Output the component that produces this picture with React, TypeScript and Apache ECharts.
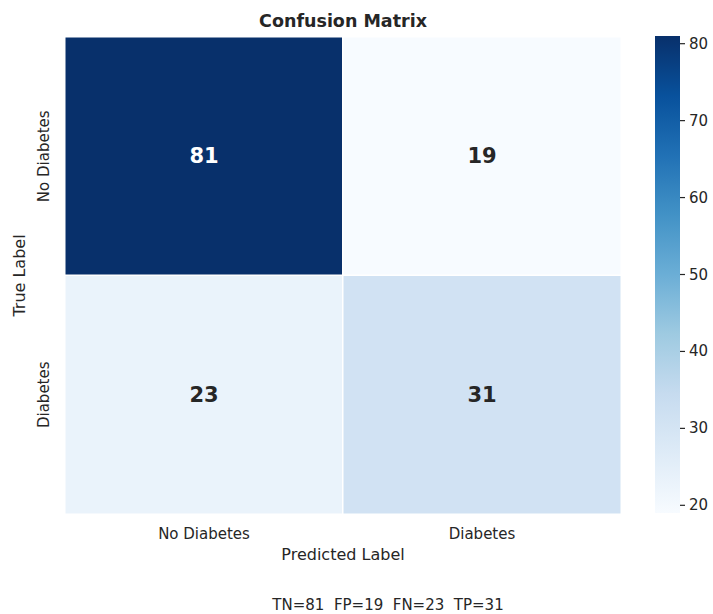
import React, { useEffect, useRef } from "react";
import * as echarts from "echarts";

const predictedLabels = ["No Diabetes", "Diabetes"];
const trueLabels = ["No Diabetes", "Diabetes"];
// [predictedIndex, trueIndex, count]
const cells: [number, number, number][] = [
  [0, 0, 81],
  [1, 0, 19],
  [0, 1, 23],
  [1, 1, 31],
];
const colorbarTicks = [20, 30, 40, 50, 60, 70, 80];
const summaryText = "TN=81  FP=19  FN=23  TP=31";
const blues = [
  "#f7fbff", "#deebf7", "#c6dbef", "#9ecae1", "#6baed6",
  "#4292c6", "#2171b5", "#08519c", "#08306b",
];

const FONT = "DejaVu Sans";
const TXT = "#262626";

export default function App() {
  const ref = useRef<HTMLDivElement>(null);
  useEffect(() => {
    document.body.style.margin = "0";
    const chart = echarts.init(ref.current!, undefined, { renderer: "svg" });
    const vals = cells.map((c) => c[2]);
    const vmin = Math.min(...vals);
    const vmax = Math.max(...vals);
    const stops = blues.map((c, i) => ({ offset: i / (blues.length - 1), color: c }));
    chart.setOption({
      animation: false,
      textStyle: { fontFamily: FONT },
      grid: [
        { left: 65, top: 37, width: 556, height: 477 },
        { left: 655, top: 36, width: 25, height: 477 },
      ],
      xAxis: [
        {
          type: "category",
          data: predictedLabels,
          gridIndex: 0,
          axisLine: { show: false },
          axisTick: { show: false },
          splitLine: { show: false },
          axisLabel: { color: TXT, fontSize: 15, margin: 12, fontFamily: FONT },
          name: "Predicted Label",
          nameLocation: "middle",
          nameGap: 32,
          nameTextStyle: { color: TXT, fontSize: 16, fontFamily: FONT },
        },
        { type: "value", gridIndex: 1, show: false, min: 0, max: 1 },
      ],
      yAxis: [
        {
          type: "category",
          data: trueLabels,
          inverse: true,
          gridIndex: 0,
          axisLine: { show: false },
          axisTick: { show: false },
          splitLine: { show: false },
          axisLabel: { color: TXT, fontSize: 15, rotate: 90, margin: 14, fontFamily: FONT },
          name: "True Label",
          nameLocation: "middle",
          nameGap: 38,
          nameRotate: 90,
          nameTextStyle: { color: TXT, fontSize: 16, fontFamily: FONT },
        },
        {
          type: "value",
          gridIndex: 1,
          position: "right",
          min: vmin,
          max: vmax,
          axisLine: { show: false },
          splitLine: { show: false },
          axisTick: { show: false },
          axisLabel: { color: TXT, fontSize: 15, margin: 9, fontFamily: FONT, customValues: colorbarTicks },
        },
      ],
      visualMap: {
        show: false,
        seriesIndex: 0,
        dimension: 2,
        min: vmin,
        max: vmax,
        inRange: { color: blues },
      },
      graphic: [
        {
          type: "text",
          x: 343,
          y: 21,
          style: {
            text: "Confusion Matrix",
            fontFamily: FONT,
            fontSize: 17.5,
            fontWeight: "bold",
            fill: TXT,
            textAlign: "center",
            textVerticalAlign: "middle",
          },
        },
        {
          type: "text",
          x: 388,
          y: 605,
          style: {
            text: summaryText,
            fontFamily: FONT,
            fontSize: 15,
            fill: TXT,
            textAlign: "center",
            textVerticalAlign: "middle",
          },
        },
      ],
      series: [
        {
          type: "heatmap",
          xAxisIndex: 0,
          yAxisIndex: 0,
          data: cells.map((c) => ({
            value: c,
            label: { color: c[2] > (vmin + vmax) / 2 ? "#ffffff" : TXT },
          })),
          itemStyle: { borderColor: "#ffffff", borderWidth: 1.5 },
          label: {
            show: true,
            fontSize: 21,
            fontWeight: "bold",
            fontFamily: FONT,
            formatter: (p: any) => String(p.value[2]),
          },
        },
        {
          type: "custom",
          xAxisIndex: 1,
          yAxisIndex: 1,
          data: [[0, vmin]],
          silent: true,
          renderItem: (params: any) => {
            const cs = params.coordSys;
            return {
              type: "rect",
              shape: { x: cs.x, y: cs.y, width: cs.width, height: cs.height },
              style: { fill: new echarts.graphic.LinearGradient(0, 1, 0, 0, stops) },
            };
          },
        },
        {
          type: "custom",
          xAxisIndex: 1,
          yAxisIndex: 1,
          data: colorbarTicks.map((t) => [1, t]),
          silent: true,
          renderItem: (params: any, api: any) => {
            const p = api.coord([api.value(0), api.value(1)]);
            return {
              type: "line",
              shape: { x1: p[0], y1: p[1], x2: p[0] + 5, y2: p[1] },
              style: { stroke: TXT, lineWidth: 1.2 },
            };
          },
        },
      ],
    });
    return () => chart.dispose();
  }, []);
  return <div ref={ref} style={{ width: 713, height: 614 }} />;
}
